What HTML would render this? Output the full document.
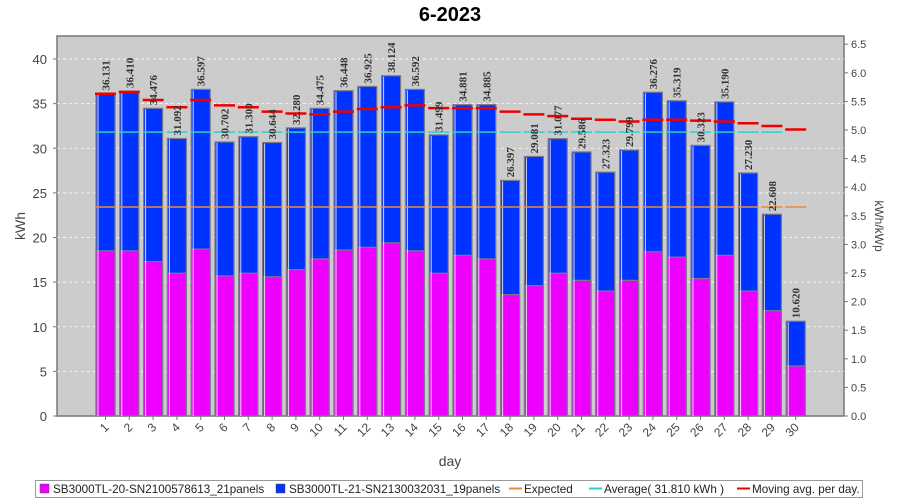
<!DOCTYPE html>
<html><head><meta charset="utf-8"><style>body{margin:0;background:#fff}svg{display:block}</style></head>
<body>
<svg id="s" width="900" height="500" xmlns="http://www.w3.org/2000/svg" font-family="Liberation Sans, sans-serif"></svg>
<script>
var tot=[36.131,36.410,34.476,31.092,36.597,30.702,31.300,30.644,32.280,34.475,36.448,36.925,38.124,36.592,31.499,34.881,34.885,26.397,29.081,31.077,29.586,27.323,29.799,36.276,35.319,30.323,35.190,27.230,22.608,10.620];
var mag=[18.5,18.5,17.3,16,18.7,15.7,16,15.6,16.4,17.6,18.6,18.9,19.4,18.5,16,18,17.6,13.6,14.6,16,15.2,14,15.2,18.4,17.8,15.4,18,14,11.8,5.6];
var mov=[36.1,36.3,35.4,34.6,35.4,34.8,34.6,34.1,33.9,33.8,34.1,34.4,34.6,34.8,34.5,34.5,34.5,34.1,33.8,33.6,33.3,33.2,33.0,33.2,33.2,33.1,33.0,32.8,32.5,32.1];
function Y(v){return 416-v*8.925;}
var h='';
h+='<text x="450" y="21" text-anchor="middle" font-size="20" font-weight="bold">6-2023</text>';
h+='<rect x="57" y="36" width="787" height="380" fill="#cccccc" stroke="#777" stroke-width="1.5"/>';
for(var v=5;v<=40;v+=5){h+='<line x1="57" x2="844" y1="'+Y(v)+'" y2="'+Y(v)+'" stroke="#fff" stroke-dasharray="3,3" stroke-width="0.8"/>';}
for(var v=0;v<=40;v+=5){h+='<line x1="53" x2="57" y1="'+Y(v)+'" y2="'+Y(v)+'" stroke="#777"/><text x="47" y="'+(Y(v)+5)+'" text-anchor="end" font-size="13" fill="#444">'+v+'</text>';}
for(var i=0;i<=13;i++){var r=i*0.5,y=416-r*57.2;h+='<line x1="844" x2="848" y1="'+y+'" y2="'+y+'" stroke="#777"/><text x="851" y="'+(y+4)+'" font-size="11" fill="#444">'+r.toFixed(1)+'</text>';}
var step=23.8;
for(var d=0;d<30;d++){
 var c=105.5+d*step,x=c-9.5;
 h+='<rect x="'+x+'" y="'+Y(tot[d])+'" width="19" height="'+(tot[d]*8.925)+'" fill="#0033ff" stroke="#7a7a8a" stroke-width="1.2"/>';
 h+='<rect x="'+x+'" y="'+Y(mag[d])+'" width="19" height="'+(mag[d]*8.925)+'" fill="#ee00ff" stroke="#7a7a8a" stroke-width="1.2"/>';
 h+='<line x1="'+(x+2)+'" x2="'+(x+2)+'" y1="'+(Y(tot[d])+1)+'" y2="416" stroke="#fff" stroke-opacity="0.8" stroke-width="1"/>';
 h+='<line x1="'+(c-10.5)+'" x2="'+(c+10.5)+'" y1="207" y2="207" stroke="#f08a30" stroke-width="1.5"/>';
 if(d<29)h+='<line x1="'+(c-10.5)+'" x2="'+(c+10.5)+'" y1="'+Y(31.81)+'" y2="'+Y(31.81)+'" stroke="#33cccc" stroke-width="1.5"/>';
 h+='<line x1="'+(c-10.5)+'" x2="'+(c+10.5)+'" y1="'+Y(mov[d])+'" y2="'+Y(mov[d])+'" stroke="#ee0000" stroke-width="2.5"/>';
 var ty=Y(tot[d])-3;
 h+='<text transform="translate('+(c+4)+','+ty+') rotate(-90)" font-family="Liberation Serif, serif" font-weight="bold" font-size="11" fill="#333">'+tot[d].toFixed(3)+'</text>';
 h+='<line x1="'+c+'" x2="'+c+'" y1="416" y2="420" stroke="#777"/>';
 h+='<text transform="translate('+(c+4)+',428) rotate(-45)" text-anchor="end" font-size="12" fill="#444">'+(d+1)+'</text>';
}
h+='<text x="450" y="466" text-anchor="middle" font-size="14" fill="#444">day</text>';
h+='<text transform="translate(25,226) rotate(-90)" text-anchor="middle" font-size="14" fill="#444">kWh</text>';
h+='<text transform="translate(875,226) rotate(90)" text-anchor="middle" font-size="12" fill="#444">kWh/kWp</text>';
h+='<rect x="35.5" y="480.5" width="827" height="17" fill="#fff" stroke="#999"/>';
var lg=[[40,'SB3000TL-20-SN2100578613_21panels','b','#ee00ff'],[276,'SB3000TL-21-SN2130032031_19panels','b','#0033ff'],[511,'Expected','l','#f08a30'],[591,'Average( 31.810 kWh )','l','#33cccc'],[739,'Moving avg. per day.','l','#ee0000']];
lg.forEach(function(o){
 if(o[2]=='b')h+='<rect x="'+o[0]+'" y="484" width="9" height="9" fill="'+o[3]+'" stroke="#555" stroke-width="0.5"/>';
 else h+='<line x1="'+(o[0]-2)+'" x2="'+(o[0]+11)+'" y1="488.5" y2="488.5" stroke="'+o[3]+'" stroke-width="2"/>';
 h+='<text x="'+(o[0]+13)+'" y="493" font-size="11.7" fill="#222">'+o[1]+'</text>';
});
document.getElementById('s').innerHTML=h;
</script>
</body></html>
